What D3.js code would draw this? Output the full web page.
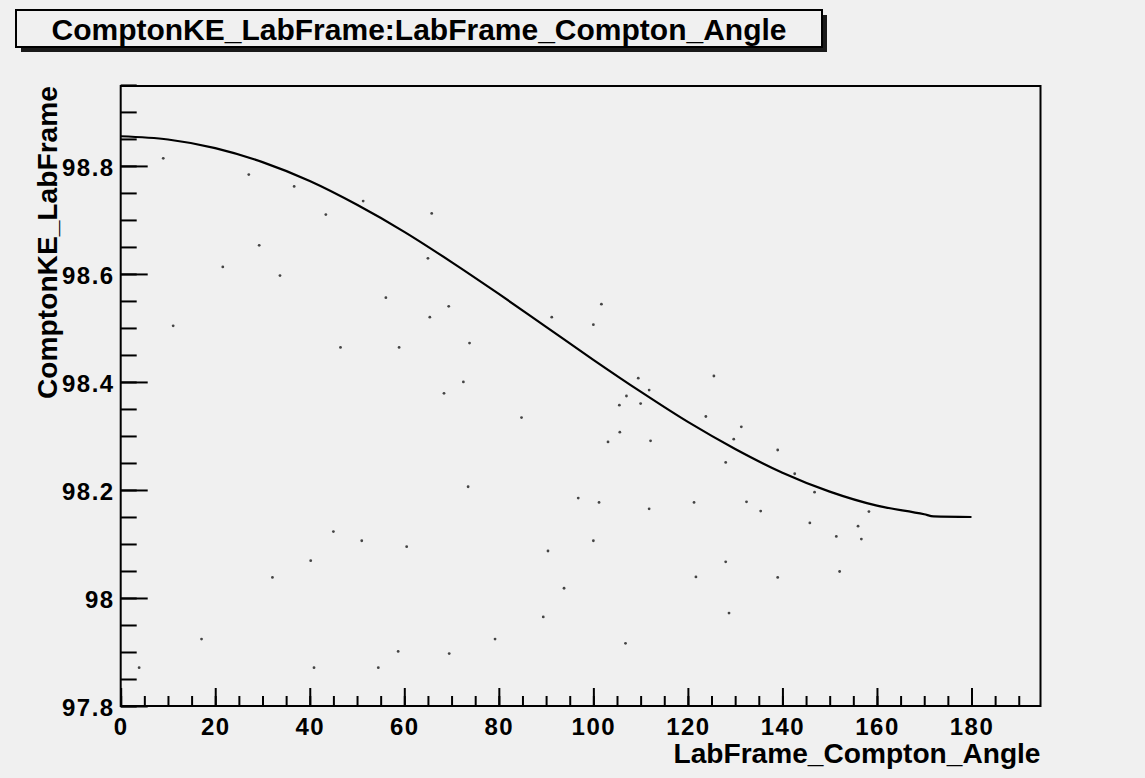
<!DOCTYPE html>
<html>
<head>
<meta charset="utf-8">
<script src="https://cdn.jsdelivr.net/npm/d3@7"></script>
<style>
  body { margin: 0; background: #f0f0f0; }
  svg { display: block; }
</style>
</head>
<body>
<div id="scatter"></div>
<script>
// curve (angle in degrees, KE)
var curveAngle = [0, 10, 20, 30, 40, 50, 60, 70, 80, 90, 100, 110, 120, 130, 140, 150, 160, 170, 172, 180];
var curveKE = [98.855, 98.849, 98.833, 98.807, 98.772, 98.728, 98.678, 98.622, 98.563, 98.502,
               98.441, 98.382, 98.326, 98.276, 98.232, 98.197, 98.171, 98.155, 98.151, 98.150];

// scattered entries
var pointAngle = [9.0, 27.1, 36.7, 43.4, 51.3, 65.8, 29.3, 21.6, 33.7, 65.0,
                  56.1, 69.4, 65.4, 91.2, 11.1, 46.5, 58.9, 73.8, 72.5, 68.4,
                  101.7, 100.0, 109.5, 125.5, 111.8, 84.8, 73.5, 96.8, 45.0, 51.0,
                  60.5, 90.4, 40.2, 32.1, 93.8, 89.4, 17.1, 79.2, 58.7, 69.5,
                  3.9, 40.9, 54.5, 105.5, 110.0, 107.0, 103.1, 105.6, 112.1, 123.8,
                  131.3, 129.7, 128.0, 139.0, 142.6, 146.8, 158.3, 101.2, 111.8, 121.3,
                  132.4, 135.4, 145.8, 156.0, 151.4, 156.7, 100.0, 128.0, 121.7, 139.0,
                  152.1, 128.7, 106.8];
var pointKE = [98.814, 98.784, 98.762, 98.710, 98.735, 98.712, 98.653, 98.613, 98.597, 98.629,
               98.556, 98.540, 98.520, 98.520, 98.504, 98.464, 98.464, 98.472, 98.400, 98.379,
               98.544, 98.506, 98.407, 98.411, 98.385, 98.334, 98.206, 98.185, 98.123, 98.106,
               98.095, 98.087, 98.069, 98.038, 98.018, 97.965, 97.924, 97.924, 97.901, 97.897,
               97.871, 97.871, 97.871, 98.357, 98.360, 98.374, 98.289, 98.307, 98.291, 98.336,
               98.317, 98.294, 98.251, 98.274, 98.230, 98.196, 98.160, 98.177, 98.165, 98.177,
               98.178, 98.161, 98.139, 98.133, 98.114, 98.109, 98.106, 98.067, 98.039, 98.038,
               98.049, 97.972, 97.916];

var xTicks = [0, 20, 40, 60, 80, 100, 120, 140, 160, 180];
var yTicks = [97.8, 98, 98.2, 98.4, 98.6, 98.8];

var titleText = "ComptonKE_LabFrame:LabFrame_Compton_Angle";
var xTitle = "LabFrame_Compton_Angle";
var yTitle = "ComptonKE_LabFrame";

var W = 1145, H = 778;
var margin = {top: 86, right: 104.5, bottom: 72, left: 120.7},
    width = W - margin.left - margin.right,
    height = H - margin.top - margin.bottom;

var fontFam = "'Liberation Sans', Arial, Helvetica, sans-serif";

var svgRoot = d3.select("#scatter").append("svg")
    .attr("width", W)
    .attr("height", H);

svgRoot.append("rect").attr("width", W).attr("height", H).attr("fill", "#f0f0f0");

var svg = svgRoot.append("g")
    .attr("transform", "translate(" + margin.left + "," + margin.top + ")");

var x = d3.scaleLinear().domain([0, 194.6]).range([0, width]);
var y = d3.scaleLinear().domain([97.8, 98.948]).range([height, 0]);

// minor ticks
svg.append("g")
    .attr("transform", "translate(0," + height + ")")
    .call(d3.axisBottom(x).tickValues(d3.range(0, 195, 5)).tickSize(-10).tickFormat(""))
    .call(function(g) { g.select(".domain").remove(); });
svg.append("g")
    .call(d3.axisLeft(y).tickValues(d3.range(0, 24).map(function(i) { return 97.8 + i * 0.05; })).tickSize(-16).tickFormat(""))
    .call(function(g) { g.select(".domain").remove(); });

// major ticks
var xAxis = svg.append("g")
    .attr("transform", "translate(0," + height + ")")
    .call(d3.axisBottom(x).tickValues(xTicks).tickSize(-18).tickPadding(12).tickFormat(d3.format("d")));
var yAxis = svg.append("g")
    .call(d3.axisLeft(y).tickValues(yTicks).tickSize(-27).tickPadding(6)
      .tickFormat(function(d) { return d3.format(".1f")(d).replace(".0", ""); }));

[xAxis, yAxis].forEach(function(a) {
  a.select(".domain").remove();
  a.attr("font-size", 24).attr("font-family", fontFam).attr("font-weight", "bold");
  a.selectAll("text").attr("fill", "#000").style("letter-spacing", "1.5px");
});
yAxis.selectAll("text").attr("dy", "0.4em");
svg.selectAll(".tick line").attr("stroke", "#000").attr("stroke-width", 2);

// frame
svg.append("rect")
    .attr("width", width).attr("height", height)
    .attr("fill", "none").attr("stroke", "#000").attr("stroke-width", 2);

// curve
var curveData = curveAngle.map(function(a, i) { return {a: a, e: curveKE[i]}; });
svg.append("path")
    .datum(curveData)
    .attr("fill", "none")
    .attr("stroke", "#000")
    .attr("stroke-width", 2.2)
    .attr("d", d3.line()
      .x(function(d) { return x(d.a); })
      .y(function(d) { return y(d.e); })
      .curve(d3.curveMonotoneX));

// points
var pts = pointAngle.map(function(a, i) { return {a: a, e: pointKE[i]}; });
svg.selectAll(".pt")
    .data(pts)
  .enter().append("circle")
    .attr("class", "pt")
    .attr("cx", function(d) { return x(d.a); })
    .attr("cy", function(d) { return y(d.e); })
    .attr("r", 1.4)
    .attr("fill", "#444");

// axis titles
svg.append("text")
    .attr("x", width)
    .attr("y", height + 57)
    .attr("text-anchor", "end")
    .attr("font-family", fontFam).attr("font-weight", "bold").attr("font-size", 28)
    .attr("textLength", 367).attr("lengthAdjust", "spacingAndGlyphs")
    .text(xTitle);

svg.append("text")
    .attr("transform", "rotate(-90)")
    .attr("x", 0)
    .attr("y", 57 - margin.left)
    .attr("text-anchor", "end")
    .attr("font-family", fontFam).attr("font-weight", "bold").attr("font-size", 28)
    .attr("textLength", 313).attr("lengthAdjust", "spacingAndGlyphs")
    .text(yTitle);

// title box with shadow
svgRoot.append("rect")
    .attr("x", 21).attr("y", 15).attr("width", 806).attr("height", 37)
    .attr("fill", "#1a1a1a");
svgRoot.append("rect")
    .attr("x", 16).attr("y", 10).attr("width", 806).attr("height", 37)
    .attr("fill", "#f0f0f0").attr("stroke", "#000").attr("stroke-width", 2);
svgRoot.append("text")
    .attr("x", 419).attr("y", 40)
    .attr("text-anchor", "middle")
    .attr("font-family", fontFam).attr("font-weight", "bold").attr("font-size", 29)
    .attr("textLength", 735).attr("lengthAdjust", "spacingAndGlyphs")
    .text(titleText);
</script>
</body>
</html>
